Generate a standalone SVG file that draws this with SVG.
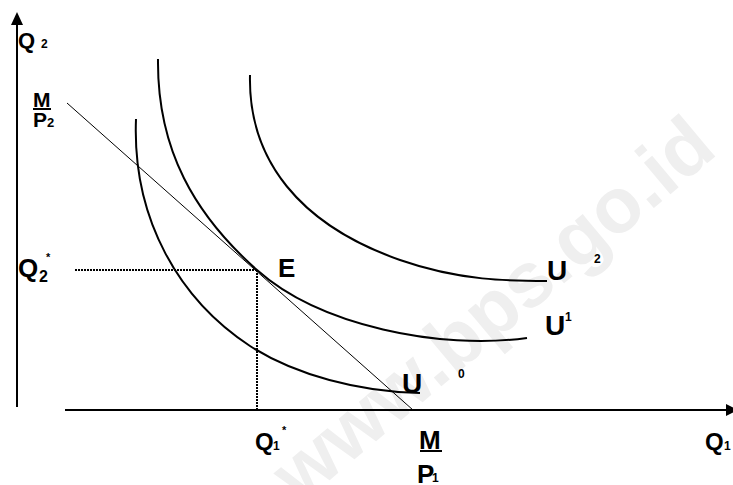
<svg xmlns="http://www.w3.org/2000/svg" width="733" height="485" viewBox="0 0 733 485">
<style>
.lbl{font-family:"Liberation Sans",Arial,sans-serif;font-weight:bold;fill:#000}
.curve{fill:none;stroke:#000;stroke-width:2}
.dot{fill:none;stroke:#000;stroke-width:2;stroke-dasharray:2 1}
</style>
<rect width="733" height="485" fill="#fff"/>
<text id="watermark" x="300" y="505" transform="rotate(-40 300 505)" style="font-family:'Liberation Sans',Arial,sans-serif;font-weight:bold;font-size:78px;fill:#efefef">www.bps.go.id</text>
<g id="axes">
<line x1="17" y1="407" x2="17" y2="22" stroke="#000" stroke-width="2"/>
<polygon points="17,12 11,25 23,25" fill="#000"/>
<line x1="65" y1="410" x2="728" y2="410" stroke="#000" stroke-width="2"/>
<polygon points="738,410 726,404 726,416" fill="#000"/>
</g>
<g id="connectors">
<line id="budget" x1="67" y1="103" x2="413" y2="410" stroke="#000" stroke-width="1"/>
<line class="dot" x1="75" y1="270" x2="257" y2="270"/>
<line class="dot" x1="257" y1="270" x2="257" y2="410"/>
</g>
<g id="U0"><path class="curve" d="M136,119 C132,220 180,300 250,346 C295,375 360,392 420,393"/></g>
<g id="U1"><path class="curve" d="M158,59 C157,150 195,215 257,270 C320,326 440,350 527,338"/></g>
<g id="U2"><path class="curve" d="M250,75 C248,160 300,225 400,260 C460,281 510,281 547,281"/></g>
<g id="labels">
<text class="lbl" x="18" y="48" font-size="22">Q</text>
<text class="lbl" x="41" y="48" font-size="12">2</text>
<text class="lbl" x="33" y="107" font-size="21">M</text>
<line x1="33" y1="109" x2="51" y2="109" stroke="#000" stroke-width="2"/>
<text class="lbl" x="33" y="127" font-size="21">P</text>
<text class="lbl" x="47" y="127" font-size="13">2</text>
<text class="lbl" x="18" y="277" font-size="26">Q</text>
<text class="lbl" x="39" y="282" font-size="16">2</text>
<text class="lbl" x="46" y="261" font-size="11">*</text>
<text class="lbl" x="278" y="277" font-size="26">E</text>
<text class="lbl" x="547" y="280" font-size="28">U</text>
<text class="lbl" x="594" y="263" font-size="12">2</text>
<text class="lbl" x="545" y="335" font-size="28">U</text>
<text class="lbl" x="565" y="321" font-size="12">1</text>
<text class="lbl" x="402" y="393" font-size="28">U</text>
<text class="lbl" x="458" y="378" font-size="12">0</text>
<text class="lbl" x="255" y="450" font-size="24">Q</text>
<text class="lbl" x="273" y="450" font-size="12">1</text>
<text class="lbl" x="282" y="434" font-size="11">*</text>
<text class="lbl" x="419" y="449" font-size="26">M</text>
<line x1="420" y1="451" x2="442" y2="451" stroke="#000" stroke-width="2"/>
<text class="lbl" x="417" y="483" font-size="26">P</text>
<text class="lbl" x="432" y="482" font-size="12">1</text>
<text class="lbl" x="705" y="450" font-size="24">Q</text>
<text class="lbl" x="724" y="450" font-size="12">1</text>
</g>
</svg>
